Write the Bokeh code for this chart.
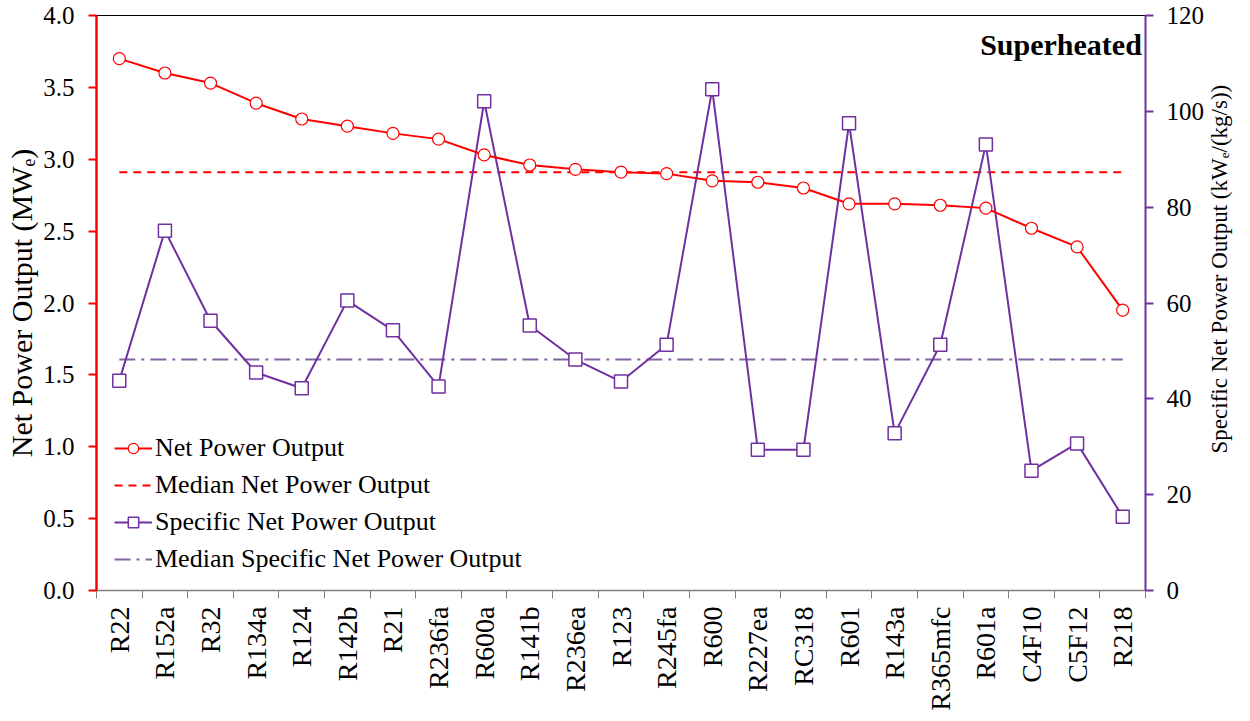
import numpy as np
from bokeh.plotting import figure
from bokeh.models import (Range1d, LinearAxis, FixedTicker, Legend, LegendItem,
                          Label, ColumnDataSource)
from bokeh.embed import file_html
from bokeh.resources import INLINE

categories = ["R22", "R152a", "R32", "R134a", "R124", "R142b", "R21", "R236fa",
              "R600a", "R141b", "R236ea", "R123", "R245fa", "R600", "R227ea",
              "RC318", "R601", "R143a", "R365mfc", "R601a", "C4F10", "C5F12", "R218"]
net_power = [3.70, 3.60, 3.53, 3.39, 3.28, 3.23, 3.18, 3.14, 3.03, 2.96, 2.93,
             2.91, 2.90, 2.85, 2.84, 2.80, 2.69, 2.69, 2.68, 2.66, 2.52, 2.39, 1.95]
specific_power = [43.8, 75.1, 56.3, 45.5, 42.2, 60.5, 54.3, 42.6, 102.1, 55.3,
                  48.2, 43.6, 51.3, 104.6, 29.4, 29.4, 97.5, 32.8, 51.3, 93.1,
                  25.0, 30.7, 15.4]
left_ticks = [0.0, 0.5, 1.0, 1.5, 2.0, 2.5, 3.0, 3.5, 4.0]
right_ticks = [0, 20, 40, 60, 80, 100, 120]
right_title = "Specific Net Power Output (kWₑ/(kg/s))"

RED = "#FF0000"
PURPLE = "#7030A0"
PURPLE_MED = "#8064A2"
FONT = "Liberation Serif"

n = len(categories)
xs = [i + 0.5 for i in range(n)]
med_net = float(np.median(net_power))
med_spec = float(np.median(specific_power))

p = figure(width=1250, height=721, output_backend="svg", toolbar_location=None,
           x_range=Range1d(0, n), y_range=Range1d(left_ticks[0], left_ticks[-1]),
           min_border_left=96, min_border_right=105, min_border_top=15,
           min_border_bottom=131)
p.extra_y_ranges = {"spec": Range1d(right_ticks[0], right_ticks[-1])}
p.grid.visible = False
p.outline_line_color = "black"
p.outline_line_width = 1
p.background_fill_color = "white"
p.border_fill_color = "white"

# bottom axis
xa = p.xaxis[0]
xa.ticker = FixedTicker(ticks=xs, minor_ticks=list(range(n + 1)))
xa.major_label_overrides = {x: c for x, c in zip(xs, categories)}
xa.major_label_orientation = np.pi / 2
xa.major_tick_line_color = None
xa.major_tick_out = 8
xa.major_tick_in = 0
xa.minor_tick_line_color = "#808080"
xa.minor_tick_out = 8
xa.minor_tick_in = 0
xa.axis_line_color = "#808080"
xa.axis_line_width = 1.5
xa.major_label_text_font = FONT
xa.major_label_text_font_size = "28px"
xa.major_label_text_color = "black"
xa.major_label_standoff = 8

# left axis
ya = p.yaxis[0]
ya.ticker = FixedTicker(ticks=left_ticks)
ya.major_label_overrides = {t: f"{t:.1f}" for t in left_ticks}
ya.axis_line_color = RED
ya.axis_line_width = 2.5
ya.major_tick_line_color = RED
ya.major_tick_line_width = 2
ya.major_tick_out = 8
ya.major_tick_in = 0
ya.minor_tick_line_color = None
ya.major_label_text_font = FONT
ya.major_label_text_font_size = "25px"
ya.major_label_text_color = "black"
ya.major_label_standoff = 14
ya.axis_label = "Net Power Output (MWₑ)"
ya.axis_label_text_font = FONT
ya.axis_label_text_font_size = "30px"
ya.axis_label_text_font_style = "normal"
ya.axis_label_text_color = "black"
ya.axis_label_standoff = 2

# right axis
ra = LinearAxis(y_range_name="spec", ticker=FixedTicker(ticks=right_ticks))
ra.axis_line_color = PURPLE
ra.axis_line_width = 2
ra.major_tick_line_color = PURPLE
ra.major_tick_line_width = 2
ra.major_tick_out = 8
ra.major_tick_in = 0
ra.minor_tick_line_color = None
ra.major_label_text_font = FONT
ra.major_label_text_font_size = "25px"
ra.major_label_text_color = "black"
ra.major_label_standoff = 13
p.add_layout(ra, "right")

# right axis title drawn as a single rotated tick label of an extra, line-less axis
title_start = 28.6
ra2 = LinearAxis(y_range_name="spec", ticker=FixedTicker(ticks=[title_start]))
ra2.major_label_overrides = {title_start: right_title}
ra2.major_label_orientation = np.pi / 2
ra2.axis_line_color = None
ra2.major_tick_line_color = None
ra2.minor_tick_line_color = None
ra2.major_tick_out = 0
ra2.major_tick_in = 0
ra2.major_label_standoff = 12
ra2.major_label_text_font = FONT
ra2.major_label_text_font_size = "23px"
ra2.major_label_text_color = "black"
p.add_layout(ra2, "right")

# data
src = ColumnDataSource(dict(x=xs, net=net_power, spec=specific_power))

r_med_net = p.line([xs[0], xs[-1]], [med_net, med_net], line_color=RED,
                   line_width=2, line_dash="8 6")
r_med_spec = p.line([xs[0], xs[-1]], [med_spec, med_spec], line_color=PURPLE_MED,
                    line_width=2, line_dash="16 6 3 6", y_range_name="spec")

r_spec_l = p.line("x", "spec", source=src, line_color=PURPLE, line_width=2,
                  y_range_name="spec")
r_spec_m = p.scatter("x", "spec", source=src, marker="square", size=13,
                     fill_color="white", line_color=PURPLE, line_width=1.5,
                     y_range_name="spec")

r_net_l = p.line("x", "net", source=src, line_color=RED, line_width=2)
r_net_m = p.scatter("x", "net", source=src, marker="circle", size=12,
                    fill_color="white", line_color=RED, line_width=1.2)

legend = Legend(items=[
    LegendItem(label="Net Power Output", renderers=[r_net_l, r_net_m]),
    LegendItem(label="Median Net Power Output", renderers=[r_med_net]),
    LegendItem(label="Specific Net Power Output", renderers=[r_spec_l, r_spec_m]),
    LegendItem(label="Median Specific Net Power Output", renderers=[r_med_spec]),
], location=(18, 16))
legend.border_line_color = None
legend.background_fill_alpha = 0
legend.padding = 0
legend.margin = 0
legend.spacing = 7
legend.glyph_width = 38
legend.glyph_height = 26
legend.label_height = 26
legend.label_standoff = 3
legend.label_text_font = FONT
legend.label_text_font_size = "26px"
legend.label_text_color = "black"
p.add_layout(legend)

title = Label(x=xs[-1] + 0.42, y=left_ticks[-1], x_units="data", y_units="data",
              text="Superheated", text_font=FONT, text_font_style="bold",
              text_font_size="30px", text_align="right", text_color="black",
              text_baseline="alphabetic", y_offset=-29)
p.add_layout(title)

open("out.html", "w").write(file_html(p, INLINE))
